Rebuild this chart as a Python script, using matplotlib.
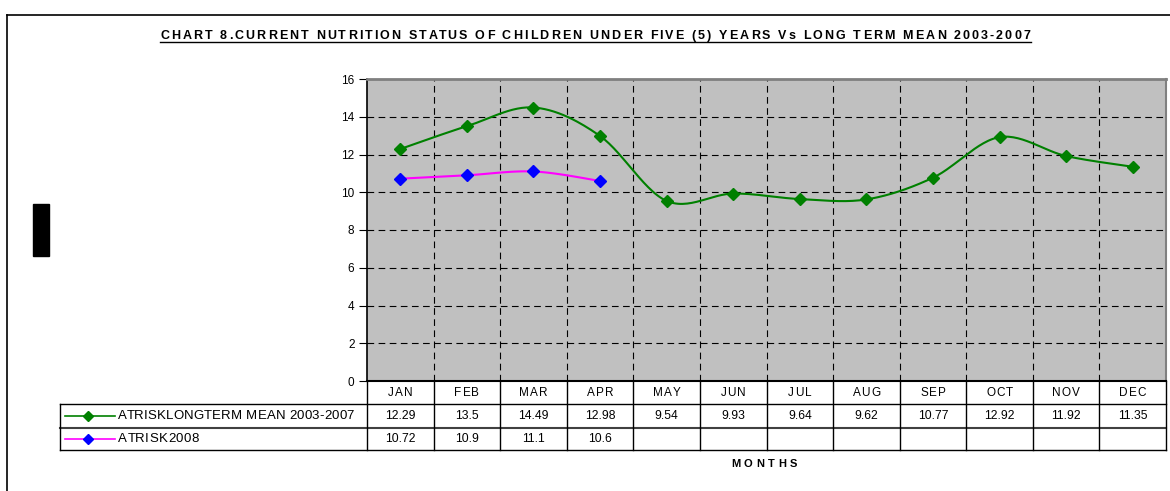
import numpy as np
import matplotlib.pyplot as plt
from matplotlib.lines import Line2D
from matplotlib.patches import Rectangle
from matplotlib.font_manager import FontProperties
import matplotlib.transforms as mtrans

plt.rcParams['font.family'] = ['Liberation Sans', 'DejaVu Sans']

# data
months = ['JAN', 'FEB', 'MAR', 'APR', 'MAY', 'JUN', 'JUL', 'AUG', 'SEP', 'OCT', 'NOV', 'DEC']
long_term = [12.29, 13.5, 14.49, 12.98, 9.54, 9.93, 9.64, 9.62, 10.77, 12.92, 11.92, 11.35]
atrisk_2008 = [10.72, 10.9, 11.1, 10.6]
long_term_label = 'ATRISKLONGTERM MEAN 2003-2007'
atrisk_label = 'ATRISK2008'
title = 'CHART 8.CURRENT NUTRITION STATUS OF CHILDREN UNDER FIVE (5) YEARS Vs LONG TERM MEAN 2003-2007'


def smooth(x, y, n=30):
    # Excel-style smoothed line: cubic bezier between points, 1/6 tangents
    x = np.asarray(x, float)
    y = np.asarray(y, float)
    px = np.concatenate([[x[0]], x, [x[-1]]])
    py = np.concatenate([[y[0]], y, [y[-1]]])
    t = np.linspace(0, 1, n)
    xs, ys = [], []
    for i in range(len(x) - 1):
        p0 = np.array([px[i + 1], py[i + 1]])
        p3 = np.array([px[i + 2], py[i + 2]])
        p1 = p0 + (p3 - np.array([px[i], py[i]])) / 6
        p2 = p3 - (np.array([px[i + 3], py[i + 3]]) - p0) / 6
        b = ((1 - t) ** 3)[:, None] * p0 + (3 * (1 - t) ** 2 * t)[:, None] * p1 \
            + (3 * (1 - t) * t ** 2)[:, None] * p2 + (t ** 3)[:, None] * p3
        xs.append(b[:, 0])
        ys.append(b[:, 1])
    return np.concatenate(xs), np.concatenate(ys)


W, H = 1170, 491
fig = plt.figure(figsize=(W / 100, H / 100), dpi=100)
renderer = fig.canvas.get_renderer()


def spaced_text(s, ypx, size, weight='normal', x0=None, x1=None, center=None, extra=0):
    # draw s letter by letter with extra spacing (pixel coordinates)
    prop = FontProperties(family=['Liberation Sans', 'DejaVu Sans'], size=size, weight=weight)
    full = renderer.get_text_width_height_descent(s, prop, ismath=False)[0]
    if x1 is not None:
        extra = (x1 - x0 - full) / (len(s) - 1)
    if center is not None:
        x0 = center - (full + extra * (len(s) - 1)) / 2
    for i, ch in enumerate(s):
        if ch == ' ':
            continue
        w = renderer.get_text_width_height_descent(s[:i], prop, ismath=False)[0] if i else 0
        fig.text((x0 + w + i * extra) / W, 1 - ypx / H, ch, ha='left', va='center',
                 fontproperties=prop)


# outer frame and the black block on the left
fig.add_artist(Line2D([7 / W, 1], [1 - 15 / H, 1 - 15 / H], color='black', lw=1.2))
fig.add_artist(Line2D([7 / W, 7 / W], [0, 1 - 15 / H], color='black', lw=1.2))
fig.add_artist(Rectangle((33 / W, 1 - 256 / H), 16 / W, 52 / H, color='black'))

AX_L, AX_R, AX_T, AX_B = 367, 1166, 79, 381
ax = fig.add_axes([AX_L / W, 1 - AX_B / H, (AX_R - AX_L) / W, (AX_B - AX_T) / H])
ax.set_facecolor('#C0C0C0')
x = np.arange(len(months))

gx, gy = smooth(x, long_term)
ax.plot(gx, gy, color='#008000', lw=1.5, zorder=3)
ax.plot(x, long_term, 'D', color='#008000', ms=6.5, zorder=4)
mx, my = smooth(x[:len(atrisk_2008)], atrisk_2008)
ax.plot(mx, my, color='#FF00FF', lw=1.5, zorder=3)
ax.plot(x[:len(atrisk_2008)], atrisk_2008, 'D', color='#0000FF', ms=6.5, zorder=4)

ax.set_xlim(-0.5, len(months) - 0.5)
ax.set_ylim(0, 16)
ax.set_yticks(np.arange(0, 17, 2))
ax.set_xticks(np.arange(0.5, len(months) - 0.5))
ax.tick_params(axis='x', length=0, labelbottom=False)
ax.tick_params(axis='y', length=6, width=0.8, labelsize=8.5, pad=3)
ax.grid(True, color='black', linestyle=(0, (6, 4)), lw=0.8)
ax.set_axisbelow(True)
ax.spines['top'].set_color('#808080')
ax.spines['right'].set_color('#808080')
ax.spines['top'].set_linewidth(2)
ax.spines['right'].set_linewidth(1.5)
ax.spines['left'].set_linewidth(1.2)
ax.spines['bottom'].set_linewidth(1.5)

# data table below the axes (x in data, y in axes units)
tr = mtrans.blended_transform_factory(ax.transData, ax.transAxes)
ph = float(AX_B - AX_T)
colw = (AX_R - AX_L) / len(months)
r0, r1, r2, r3 = 0, -23 / ph, -47 / ph, -69 / ph
left = -0.5 - (AX_L - 60) / colw
right = len(months) - 0.5
kw = dict(color='black', lw=1, transform=tr, clip_on=False)
ax.add_line(Line2D([left, right], [r1, r1], **kw))
ax.add_line(Line2D([left, right], [r2, r2], color='#404040', lw=1.5, transform=tr, clip_on=False))
ax.add_line(Line2D([left, right], [r3, r3], **kw))
ax.add_line(Line2D([left, left], [r1, r3], **kw))
for i in range(len(months) + 1):
    ax.add_line(Line2D([i - 0.5, i - 0.5], [r0, r3], **kw))

row_px = [AX_B + 11.5, AX_B + 35, AX_B + 58]
for i, m in enumerate(months):
    cx = AX_L + (i + 0.5) * colw
    spaced_text(m, row_px[0], 8.5, center=cx, extra=1.0)
    ax.text(i, (r1 + r2) / 2, '%g' % long_term[i], ha='center', va='center',
            fontsize=8.7, transform=tr)
for i, v in enumerate(atrisk_2008):
    ax.text(i, (r2 + r3) / 2, '%g' % v, ha='center', va='center', fontsize=8.7, transform=tr)

# legend keys in the table
k0 = left + 5 / colw
k1 = left + 55 / colw
for (yy, lc, mc) in [((r1 + r2) / 2, '#008000', '#008000'),
                     ((r2 + r3) / 2, '#FF00FF', '#0000FF')]:
    ax.add_line(Line2D([k0, k1], [yy, yy], color=lc, lw=1.2, transform=tr, clip_on=False))
    ax.add_line(Line2D([left + 28 / colw], [yy], marker='D', ms=5, color=mc,
                       transform=tr, clip_on=False))

spaced_text(long_term_label, row_px[1], 9.5, x0=118, x1=354)
spaced_text(atrisk_label, row_px[2], 9.5, x0=118, x1=199)
spaced_text('MONTHS', 464, 8, 'bold', x0=731, x1=797)
spaced_text(title, 36, 9, 'bold', x0=160, x1=1030)
fig.add_artist(Line2D([160 / W, 1031 / W], [1 - 42 / H, 1 - 42 / H], color='black', lw=1))

fig.savefig('out.png', dpi=100)
